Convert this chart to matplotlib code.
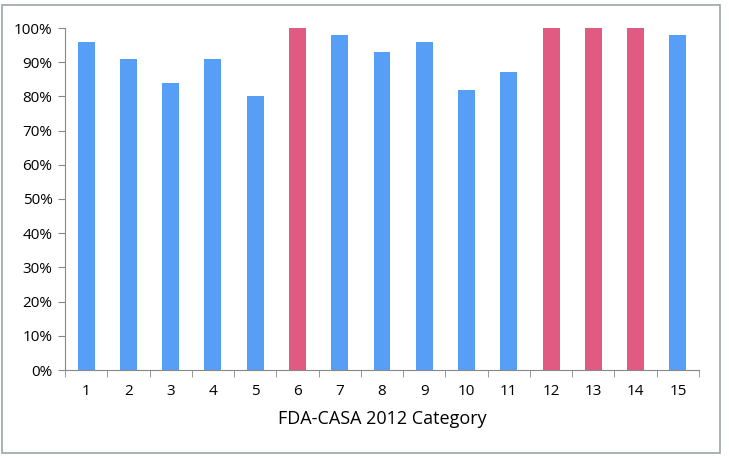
import numpy as np
import matplotlib.pyplot as plt
from matplotlib.patches import Rectangle
from matplotlib.ticker import FuncFormatter, MultipleLocator

categories = [str(i) for i in range(1, 16)]
values = [96, 91, 84, 91, 80, 100, 98, 93, 96, 82, 87, 100, 100, 100, 98]
highlight = [6, 12, 13, 14]

blue = '#579ff6'
pink = '#e05a82'
colors = [pink if int(c) in highlight else blue for c in categories]

plt.rcParams['font.family'] = ['Open Sans', 'DejaVu Sans']

fig = plt.figure(figsize=(7.29, 4.65), dpi=100)
fig.patches.append(Rectangle((2 / 729, 12 / 465), 718 / 729, 448 / 465,
                             transform=fig.transFigure, fill=False,
                             edgecolor='#9aa5a8', linewidth=1.2))
ax = fig.add_axes([65 / 729, 95 / 465, 634 / 729, 342 / 465])

x = np.arange(len(categories))
ax.bar(x, values, width=0.4, color=colors)

ax.set_xlim(-0.5, len(categories) - 0.5)
ax.set_ylim(0, 100)
ax.yaxis.set_major_locator(MultipleLocator(10))
ax.yaxis.set_major_formatter(FuncFormatter(lambda v, p: f'{v:.0f}%'))
ax.set_xticks(x)
ax.set_xticklabels(categories)
ax.set_xticks(np.arange(-0.5, len(categories)), minor=True)
ax.tick_params(axis='x', which='major', length=0, pad=10, labelsize=11)
ax.tick_params(axis='x', which='minor', length=5, color='#888888')
ax.tick_params(axis='y', length=5, color='#888888', labelsize=11, pad=4)

for s in ['top', 'right']:
    ax.spines[s].set_visible(False)
for s in ['left', 'bottom']:
    ax.spines[s].set_color('#888888')

ax.set_xlabel('FDA-CASA 2012 Category', fontsize=13, labelpad=8)

fig.savefig('out.png', dpi=100)
